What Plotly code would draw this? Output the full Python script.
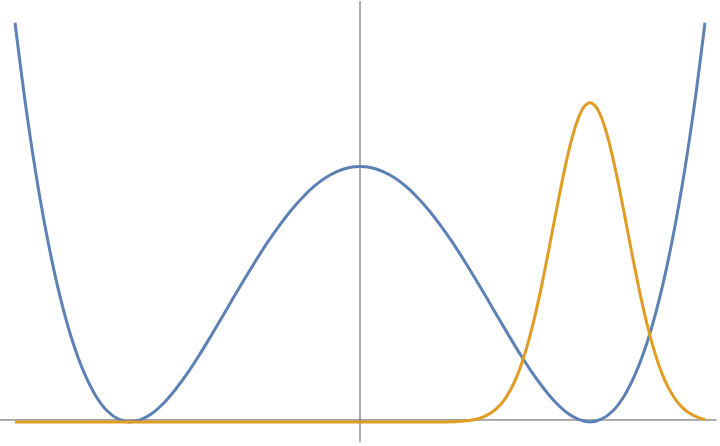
import plotly.graph_objects as go

# blue curve: x grid step 0.05 from -1.5 to 1.5
x_vals = [round(-1.5 + 0.05 * i, 2) for i in range(61)]

# blue curve values (right half, x = 0 .. 1.5); the curve is symmetric
blue_right = [1.0, 0.995, 0.980, 0.956, 0.922, 0.879, 0.828, 0.770, 0.706, 0.636,
              0.563, 0.487, 0.410, 0.334, 0.260, 0.191, 0.130, 0.077, 0.036, 0.010,
              0.0, 0.011, 0.044, 0.104, 0.194, 0.316, 0.476, 0.677, 0.922, 1.216, 1.563]
blue_vals = blue_right[:0:-1] + blue_right

# orange peak: flat part then a finer grid (step 0.025) around the peak at x = 1
orange_x_flat = [-1.5, -1.0, -0.5, 0.0, 0.3, 0.35]
orange_y_flat = [0.0, 0.0, 0.0, 0.0, 0.0, 0.0]
orange_x_peak = [round(0.4 + 0.025 * i, 3) for i in range(45)]
orange_half = [0.001, 0.002, 0.004, 0.006, 0.010, 0.016, 0.026, 0.039, 0.058, 0.084,
               0.119, 0.164, 0.221, 0.292, 0.376, 0.472, 0.579, 0.694, 0.811, 0.926,
               1.031, 1.122, 1.191, 1.235, 1.25]
orange_y_peak = orange_half + orange_half[-2::-1][:20]
orange_x = orange_x_flat + orange_x_peak
orange_vals = orange_y_flat + orange_y_peak

BLUE = "#5E81B5"
ORANGE = "#E19C24"
AXIS = "#5a5a5a"

fig = go.Figure()
fig.add_trace(go.Scatter(x=x_vals, y=blue_vals, mode="lines",
                         line=dict(color=BLUE, width=3, shape="spline"),
                         hoverinfo="skip", showlegend=False))
fig.add_trace(go.Scatter(x=orange_x, y=orange_vals, mode="lines",
                         line=dict(color=ORANGE, width=3, shape="spline"),
                         hoverinfo="skip", showlegend=False))

# axes lines (Mathematica style)
fig.add_shape(type="line", xref="paper", yref="y", x0=0, x1=0.995, y0=0.008, y1=0.008,
              line=dict(color=AXIS, width=1), layer="below")
fig.add_shape(type="line", xref="x", yref="y", x0=0, x1=0, y0=-0.078, y1=1.648,
              line=dict(color=AXIS, width=1), layer="below")

fig.update_layout(
    width=720, height=446, autosize=False,
    margin=dict(l=0, r=0, t=0, b=0),
    paper_bgcolor="white", plot_bgcolor="white",
    xaxis=dict(range=[-1.5652, 1.5652], visible=False, fixedrange=True),
    yaxis=dict(range=[-0.094, 1.652], visible=False, fixedrange=True),
)

fig.write_html("out.html", config={"displayModeBar": False},
               post_script="document.body.style.margin='0';document.body.style.overflow='hidden';")
